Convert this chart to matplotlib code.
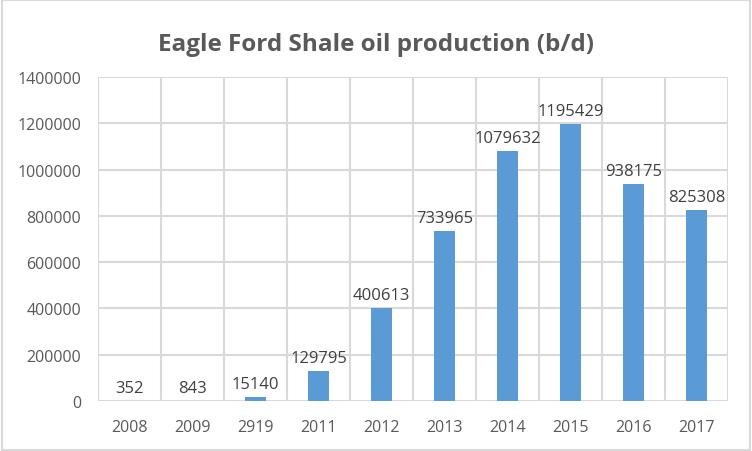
import matplotlib.pyplot as plt
import numpy as np

years = ["2008", "2009", "2919", "2011", "2012", "2013", "2014", "2015", "2016", "2017"]
production = [352, 843, 15140, 129795, 400613, 733965, 1079632, 1195429, 938175, 825308]
y_ticks = [0, 200000, 400000, 600000, 800000, 1000000, 1200000, 1400000]

BAR = "#5B9BD5"
GRID = "#D9D9D9"
TICK = "#595959"

plt.rcParams["font.family"] = ["Open Sans", "DejaVu Sans"]

fig = plt.figure(figsize=(7.52, 4.52), dpi=100)
ax = fig.add_axes([98 / 752, 50 / 452, 630 / 752, 324 / 452])

x = np.arange(len(years))
ax.bar(x, production, width=0.32, color=BAR, zorder=3)

ax.set_xlim(-0.5, len(years) - 0.5)
ax.set_ylim(0, 1400000)
ax.set_yticks(y_ticks)
ax.set_yticklabels([str(t) for t in y_ticks])
ax.set_xticks(x)
ax.set_xticklabels(years)

# vertical grid lines at category boundaries
for b in np.arange(-0.5, len(years), 1.0):
    ax.axvline(b, color=GRID, lw=1.5, zorder=1)
ax.yaxis.grid(True, color=GRID, lw=1.5, zorder=1)

for s in ax.spines.values():
    s.set_visible(False)
ax.tick_params(length=0, labelsize=11.5, colors=TICK)
ax.tick_params(axis="y", pad=12)
ax.tick_params(axis="x", pad=13)

for xi, v in zip(x, production):
    ax.text(xi, v + 22000, str(v), ha="center", va="bottom", fontsize=12, color="#404040")

fig.text(0.5, 1 - 45 / 452, "Eagle Ford Shale oil production (b/d)", ha="center", va="center",
         fontsize=17.5, weight="bold", color="#595959")

# thin light border around the chart area
fig.patches.append(plt.Rectangle((0.002, 0.003), 0.996, 0.994, transform=fig.transFigure,
                                 fill=False, edgecolor=GRID, lw=1.5))

fig.savefig("out.png", dpi=100)
